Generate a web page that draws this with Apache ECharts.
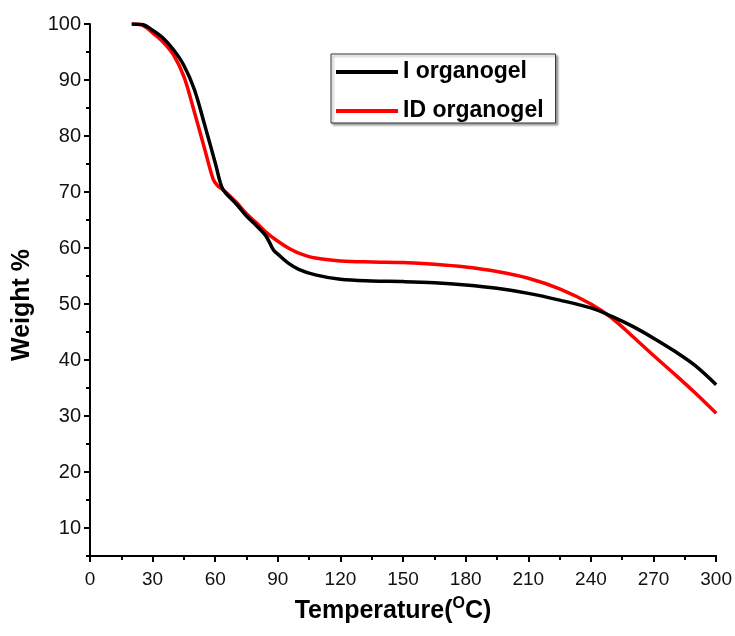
<!DOCTYPE html>
<html>
<head>
<meta charset="utf-8">
<script src="https://cdn.jsdelivr.net/npm/echarts@6/dist/echarts.min.js"></script>
<style>html,body{margin:0;padding:0;background:#fff;}#c{width:735px;height:636px;}</style>
</head>
<body>
<div id="c"></div>
<script>
const tempI = [20,25,30,35,40,45,50,55,60,63,65,70,75,80,84,86,88,90,95,100,108,120,135,150,165,180,195,210,225,240,250,260,270,280,290,300];
const weightI = [100,99.9,98.9,97.5,95.4,92.6,88.3,81.9,75.2,71.0,69.8,67.9,65.7,63.9,62.3,61.0,59.6,58.9,57.3,56.2,55.2,54.4,54.1,54.0,53.8,53.4,52.8,51.9,50.7,49.3,47.8,46.0,43.9,41.6,39.0,35.6];
const tempID = [20,25,30,35,40,45,50,55,59,61,63,65,70,75,80,85,90,95,100,108,120,135,150,165,180,195,210,225,240,250,260,270,280,290,300];
const weightID = [100,99.8,98.4,96.8,94.5,90.6,84.3,77.6,72.3,71.2,70.6,70.0,68.2,66.1,64.4,62.6,61.2,60.0,59.1,58.2,57.7,57.5,57.4,57.1,56.6,55.8,54.6,52.7,50.0,47.5,44.2,40.8,37.5,34.1,30.5];
const seriesNames = ['I organogel', 'ID organogel'];
const xTicks = [0,30,60,90,120,150,180,210,240,270,300];
const yMajor = [10,20,30,40,50,60,70,80,90,100];
const yMinor = [5,15,25,35,45,55,65,75,85,95];

const pairs = (xs, ys) => xs.map((x, i) => [x, ys[i]]);
const font = 'Liberation Sans, Arial, sans-serif';
const chart = echarts.init(document.getElementById('c'));
chart.setOption({
  animation: false,
  backgroundColor: '#fff',
  grid: { left: 90, right: 17, top: 24, bottom: 80 },
  legend: {
    orient: 'vertical',
    left: 331, top: 54,
    padding: [6, 12, 0, 5],
    itemGap: 15,
    itemWidth: 62, itemHeight: 4,
    icon: 'rect',
    backgroundColor: '#fff',
    borderColor: '#333', borderWidth: 1,
    shadowColor: 'rgba(0,0,0,0.35)', shadowBlur: 2, shadowOffsetX: 2, shadowOffsetY: 2,
    textStyle: { fontFamily: font, fontWeight: 'bold', fontSize: 23, color: '#000', lineHeight: 24 },
    data: seriesNames
  },
  xAxis: {
    type: 'value', min: 0, max: 300, interval: 30,
    axisLine: { show: true, lineStyle: { color: '#000', width: 2 } },
    axisTick: { show: true, length: 6, lineStyle: { color: '#000', width: 2 } },
    minorTick: { show: true, splitNumber: 2, length: 4, lineStyle: { color: '#000', width: 2 } },
    axisLabel: { fontFamily: font, fontSize: 19, color: '#111', margin: 14 },
    splitLine: { show: false }
  },
  yAxis: [{
    type: 'value', min: 5, max: 100, interval: 5,
    axisLine: { show: true, lineStyle: { color: '#000', width: 2 } },
    axisTick: { show: true, length: 6, customValues: yMajor, lineStyle: { color: '#000', width: 2 } },
    axisLabel: { fontFamily: font, fontSize: 20, color: '#111', margin: 9, customValues: yMajor },
    splitLine: { show: false }
  }, {
    type: 'value', min: 5, max: 100, interval: 5, position: 'left',
    axisLine: { show: false },
    axisTick: { show: true, length: 4, customValues: yMinor, lineStyle: { color: '#000', width: 2 } },
    axisLabel: { show: false },
    splitLine: { show: false }
  }],
  graphic: [
    {
      type: 'text',
      style: {
        x: 393, y: 626, align: 'center', verticalAlign: 'bottom',
        rich: {
          m: { fontFamily: font, fontWeight: 'bold', fontSize: 25, fill: '#000' },
          s: { fontFamily: font, fontWeight: 'bold', fontSize: 16, fill: '#000', verticalAlign: 'top', padding: [0, 0, 14, 0] }
        },
        text: '{m|Temperature(}{s|O}{m|C)}'
      }
    },
    {
      type: 'text', x: 22, y: 305, rotation: Math.PI / 2,
      style: {
        text: 'Weight %', align: 'center', verticalAlign: 'middle',
        fontFamily: font, fontWeight: 'bold', fontSize: 25, fill: '#000'
      }
    }
  ],
  series: [
    { name: seriesNames[0], type: 'line', data: pairs(tempI, weightI), smooth: 0.35, symbol: 'none', lineStyle: { color: '#000', width: 3.5 }, itemStyle: { color: '#000' }, z: 3 },
    { name: seriesNames[1], type: 'line', data: pairs(tempID, weightID), smooth: 0.35, symbol: 'none', lineStyle: { color: '#ff0000', width: 3.5 }, itemStyle: { color: '#ff0000' }, z: 2 }
  ]
});
</script>
</body>
</html>
